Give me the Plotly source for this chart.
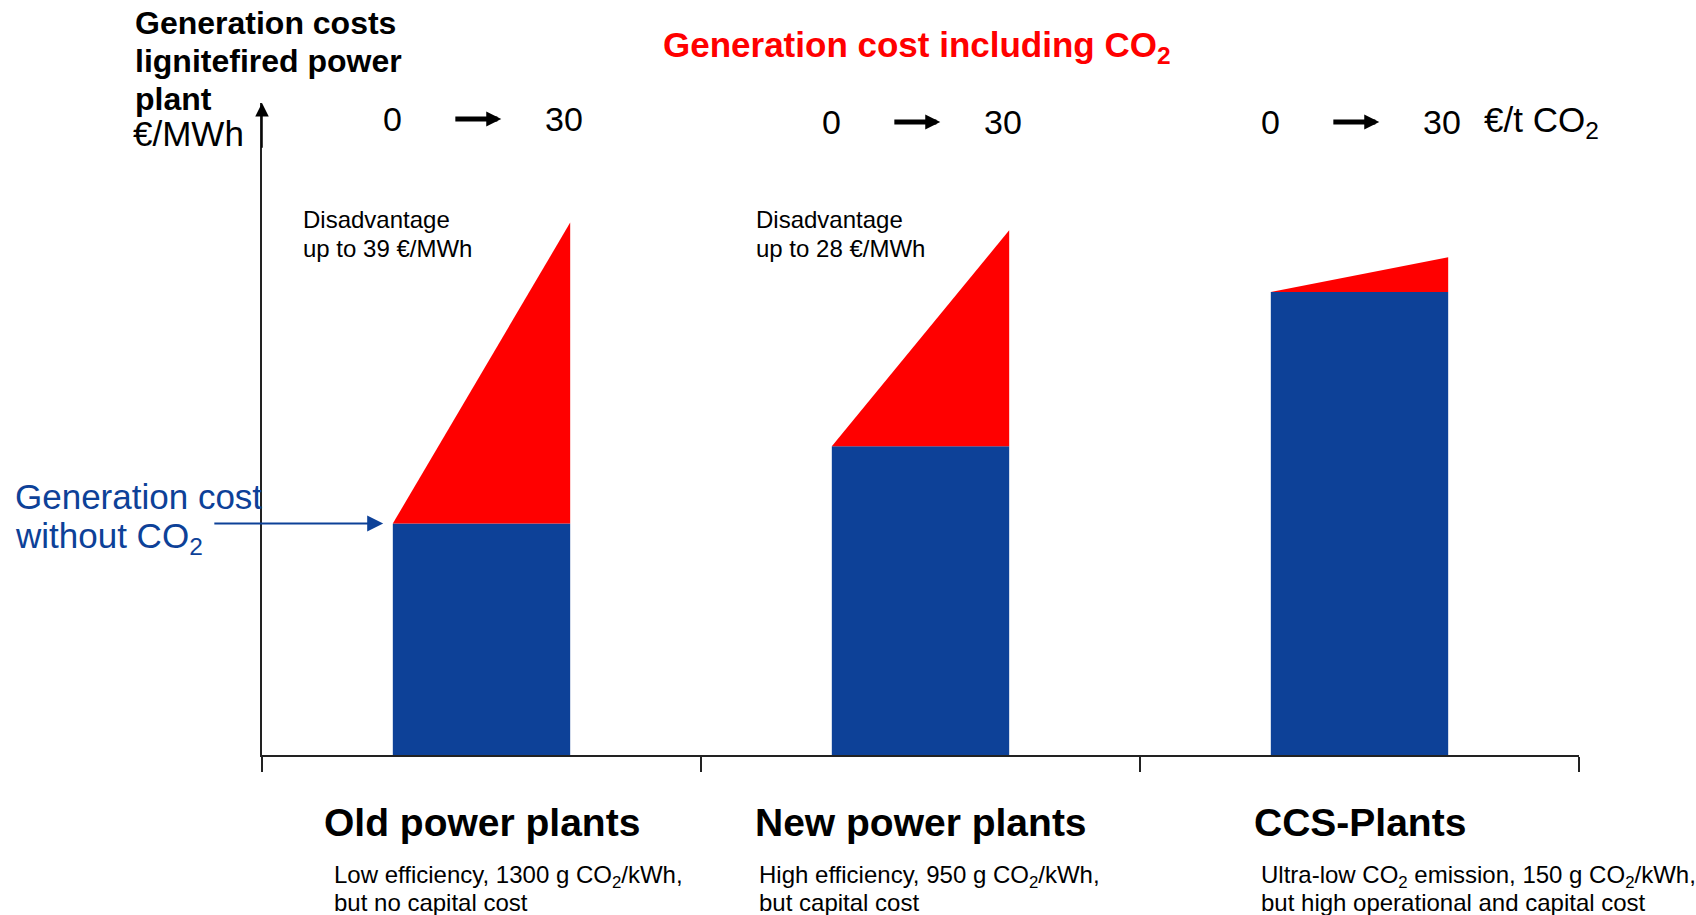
import plotly.graph_objects as go

# ---- data -------------------------------------------------------------
plants = ["Old power plants", "New power plants", "CCS-Plants"]
base_cost = [30, 40, 60]            # generation cost without CO2, €/MWh
co2_disadvantage = [39, 28, 4.5]    # extra cost at the top CO2 price, €/MWh
co2_price = [0, 30]                 # €/t CO2, start and end of the ramp
plant_notes = [
    ["Low efficiency, 1300 g CO<sub>2</sub>/kWh,", "but no capital cost"],
    ["High efficiency, 950 g CO<sub>2</sub>/kWh,", "but capital cost"],
    ["Ultra-low CO<sub>2</sub> emission, 150 g CO<sub>2</sub>/kWh,",
     "but high operational and capital cost"],
]
disadvantage_notes = [
    ["Disadvantage", "up to 39 €/MWh"],
    ["Disadvantage", "up to 28 €/MWh"],
]

# ---- styling ----------------------------------------------------------
BLUE = "#0d4198"
RED = "#ff0000"
FONT = "Liberation Sans, Arial, Helvetica, sans-serif"
W, H = 1696, 915
L, R, T, B = 262, 117, 103, 160
bar_width = 0.404
y_top = 84.5

cat_x = [i + 0.5 for i in range(len(plants))]


def px(xp):
    return (xp - L) / (W - L - R)


def py(yp):
    return (H - B - yp) / (H - B - T)


fig = go.Figure()

# blue base-cost columns
fig.add_bar(x=cat_x, y=base_cost, width=bar_width,
            marker=dict(color=BLUE, line=dict(width=0)),
            hoverinfo="skip")

# red CO2 wedge: rises across the column as the CO2 price goes 0 -> 30
p_max = co2_price[-1]
for xc, base, extra in zip(cat_x, base_cost, co2_disadvantage):
    left = xc - bar_width / 2
    xs = [left + bar_width * p / p_max for p in co2_price]
    ys = [base + extra * p / p_max for p in co2_price]
    fig.add_scatter(x=[xs[0], xs[1], xs[1], xs[0]],
                    y=[ys[0], ys[1], base, base],
                    mode="lines", fill="toself", fillcolor=RED,
                    line=dict(width=0, color=RED), hoverinfo="skip")

ann = []


def text(x, y, s, size, color="black", bold=False, xanchor="left",
         xref="paper", yref="paper"):
    if bold:
        s = "<b>" + s + "</b>"
    ann.append(dict(x=x, y=y, xref=xref, yref=yref, text=s, showarrow=False,
                    xanchor=xanchor, yanchor="middle",
                    font=dict(family=FONT, size=size, color=color)))


def arrow(x0, y0, x1, y1, color, width, size, xref="x", yref="y domain"):
    ann.append(dict(x=x1, y=y1, ax=x0, ay=y0, xref=xref, yref=yref,
                    axref=xref, ayref=yref, text="", showarrow=True,
                    arrowhead=2, arrowsize=size, arrowwidth=width,
                    arrowcolor=color, standoff=0, startstandoff=0))


# y axis arrow head
arrow(0, y_top - 6, 0, y_top, "black", 1.5, 1.8, xref="x", yref="y")

# axis title block
for i, line in enumerate(["Generation costs", "lignitefired power", "plant"]):
    text(px(133), py(23 + 38 * i), line, 32, bold=True)
text(px(131), py(134), "€/MWh", 35)

# red heading
text(px(917), py(47), "Generation cost including CO<sub>2</sub>", 35,
     color=RED, bold=True, xanchor="center")

# CO2 price ramp labels above each column
row_y = [119, 122, 122]
for xc, yy in zip(cat_x, row_y):
    left = xc - bar_width / 2
    right = xc + bar_width / 2
    text(left, py(yy), str(co2_price[0]), 34, xanchor="center", xref="x")
    text(right - 0.015, py(yy), str(co2_price[1]), 34, xanchor="center",
         xref="x")
    arrow(xc - 0.5 + 0.437, py(yy), xc - 0.5 + 0.545, py(yy),
          "black", 5, 0.6)
text(cat_x[-1] + bar_width / 2 + 0.078, py(122), "€/t CO<sub>2</sub>", 35,
     xref="x")

# disadvantage notes
for xl, lines in zip([301, 754], disadvantage_notes):
    text(px(xl), py(220), lines[0], 24)
    text(px(xl), py(248), lines[1], 24)

# "without CO2" pointer
text(px(13), py(496), "Generation cost", 35, color=BLUE)
text(px(13), py(538), "without CO<sub>2</sub>", 35, color=BLUE)
arrow(-0.112, base_cost[0], cat_x[0] - bar_width / 2 - 0.022, base_cost[0],
      BLUE, 2, 1.6, xref="x", yref="y")

# category names and notes
for xc, name, notes, xl in zip(cat_x, plants, plant_notes, [332, 757, 1259]):
    text(xc, py(822), name, 39, bold=True, xanchor="center", xref="x")
    text(px(xl), py(876), notes[0], 24)
    text(px(xl), py(902), notes[1], 24)

fig.update_layout(
    width=W, height=H,
    margin=dict(l=L, r=R, t=T, b=B, pad=0),
    paper_bgcolor="white", plot_bgcolor="white",
    showlegend=False,
    annotations=ann,
    xaxis=dict(range=[0, 3], showgrid=False, zeroline=False,
               showline=True, linecolor="#222", linewidth=1.5,
               ticks="outside", ticklen=15, tickwidth=1.5, tickcolor="#222",
               tickvals=[0, 1, 2, 3], showticklabels=False, fixedrange=True),
    yaxis=dict(range=[0, y_top], showgrid=False, zeroline=False,
               showline=True, linecolor="#222", linewidth=1.5,
               ticks="", showticklabels=False, fixedrange=True),
)

fig.write_html("out.html", config={"displayModeBar": False})
